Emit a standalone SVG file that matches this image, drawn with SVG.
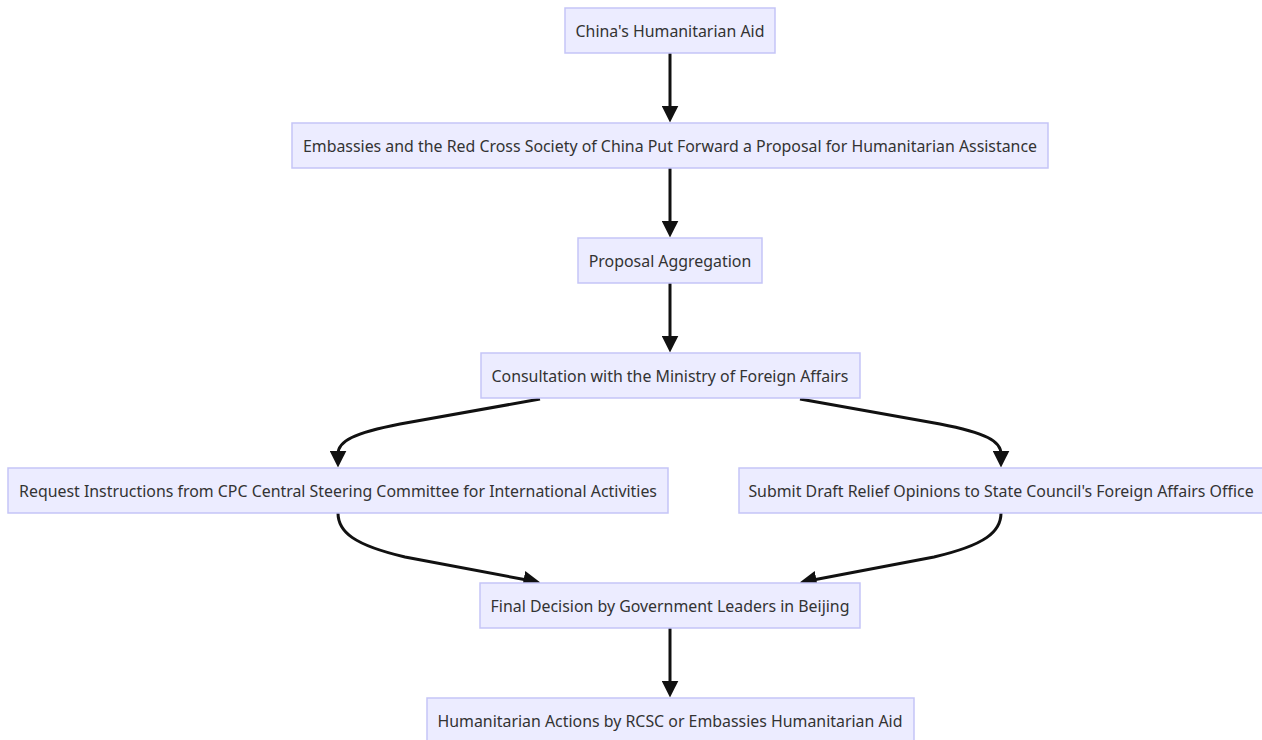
<svg xmlns="http://www.w3.org/2000/svg" width="1262" height="740" viewBox="0 0 1262 740">
<style>
.node rect{fill:#ECECFF;stroke:#C5C5F7;stroke-width:1.5}
.node text{font-family:"Noto Sans","Open Sans",sans-serif;font-size:15.9px;fill:#333;text-anchor:middle;dominant-baseline:central}
.edges path{fill:none;stroke:#111;stroke-width:3}
</style>
<defs>
<marker id="arr" viewBox="0 0 10 10" refX="2" refY="5" markerWidth="17" markerHeight="17" markerUnits="userSpaceOnUse" orient="auto">
<path d="M0,0 L10,5 L0,10 z" fill="#111"/>
</marker>
</defs>
<rect width="1262" height="740" fill="#fff"/>
<g class="edges">
<path d="M670,53 L670,109" marker-end="url(#arr)"/>
<path d="M670,168 L670,224" marker-end="url(#arr)"/>
<path d="M670,283 L670,339" marker-end="url(#arr)"/>
<path d="M540,399 L400,424 C354,433 338,441 338,454" marker-end="url(#arr)"/>
<path d="M800,399 L940,424 C986,433 1001,441 1001,454" marker-end="url(#arr)"/>
<path d="M338,513 C338,532 354,545 405,557 L527,580" marker-end="url(#arr)"/>
<path d="M1001,513 C1001,532 985,545 934,557 L813,580" marker-end="url(#arr)"/>
<path d="M670,628 L670,684" marker-end="url(#arr)"/>
</g>
<g id="n1" class="node"><rect x="565" y="8" width="210" height="45"/><text x="670" y="30.5">China's Humanitarian Aid</text></g>
<g id="n2" class="node"><rect x="292" y="123" width="756" height="45"/><text x="670" y="145.5">Embassies and the Red Cross Society of China Put Forward a Proposal for Humanitarian Assistance</text></g>
<g id="n3" class="node"><rect x="578" y="238" width="184" height="45"/><text x="670" y="260.5">Proposal Aggregation</text></g>
<g id="n4" class="node"><rect x="481" y="353" width="379" height="45"/><text x="670" y="375.5">Consultation with the Ministry of Foreign Affairs</text></g>
<g id="n5" class="node"><rect x="8" y="468" width="660" height="45"/><text x="338" y="490.5">Request Instructions from CPC Central Steering Committee for International Activities</text></g>
<g id="n6" class="node"><rect x="739" y="468" width="524" height="45"/><text x="1001" y="490.5">Submit Draft Relief Opinions to State Council's Foreign Affairs Office</text></g>
<g id="n7" class="node"><rect x="480" y="583" width="380" height="45"/><text x="670" y="605.5">Final Decision by Government Leaders in Beijing</text></g>
<g id="n8" class="node"><rect x="427" y="698" width="487" height="45"/><text x="670" y="720.5">Humanitarian Actions by RCSC or Embassies Humanitarian Aid</text></g>
</svg>
